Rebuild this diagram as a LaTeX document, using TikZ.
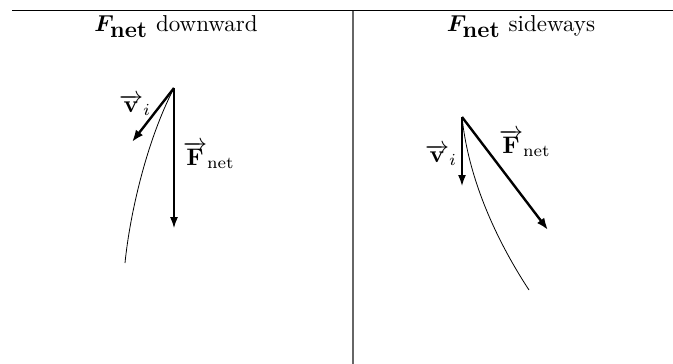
\documentclass[tikz,border=0pt]{standalone}
\usepackage{bm}
\usetikzlibrary{arrows.meta}
\tikzset{
  titletext/.style={anchor=base, inner sep=0pt, scale=2.3},
  lbl/.style={anchor=base, inner sep=0pt, scale=2.4},
  thinvec/.style={line width=1.2pt, -{Latex[length=11pt,width=8pt]}},
  thickvec/.style={line width=2.4pt, -{Latex[length=12pt,width=9pt]}},
  path/.style={line width=0.8pt},
}
\newcommand{\Fnet}{$\smash{\overrightarrow{\mathbf{F}}}\vphantom{F}_{\mathrm{net}}$}
\newcommand{\vi}{$\smash{\overrightarrow{\mathbf{v}}}\vphantom{v}_{i}$}
\begin{document}
\begin{tikzpicture}[x=1pt,y=-1pt]
\useasboundingbox (0,0) rectangle (673,364);
% frame lines
\coordinate (TL) at (12,10.5);
\coordinate (TR) at (673,10.5);
\coordinate (DT) at (353,10.5);
\coordinate (DB) at (353,364);
\draw[line width=1.3pt] (TL) -- (TR);
\draw[line width=1.3pt, black!60] (DT) -- (DB);
% titles
\node[titletext] (t1) at (176,31) {$\bm{F}_{\textbf{net}}$ downward};
\node[titletext] (t2) at (521,31) {$\bm{F}_{\textbf{net}}$ sideways};
% left panel
\coordinate (L) at (174,88);
\coordinate (LF) at (174,228);
\coordinate (Lv) at (132,142);
\coordinate (Lc) at (125,263);
\draw[path] (L) .. controls (147,140) and (130,213) .. (Lc);
\draw[thinvec] (L) -- (LF);
\draw[thickvec] (L) -- (Lv);
\node[lbl] (lvl) at (135,112) {\vi};
\node[lbl] (lFl) at (209,165) {\Fnet};
% right panel
\coordinate (R) at (462,117);
\coordinate (Rv) at (462,186);
\coordinate (RF) at (548,230);
\coordinate (Rc) at (529,290);
\draw[path] (R) .. controls (468,175) and (493,235) .. (Rc);
\draw[thinvec, line width=1.5pt] (R) -- (Rv);
\draw[thickvec] (R) -- (RF);
\node[lbl] (rvl) at (441,162) {\vi};
\node[lbl] (rFl) at (525,153) {\Fnet};
\end{tikzpicture}
\end{document}
